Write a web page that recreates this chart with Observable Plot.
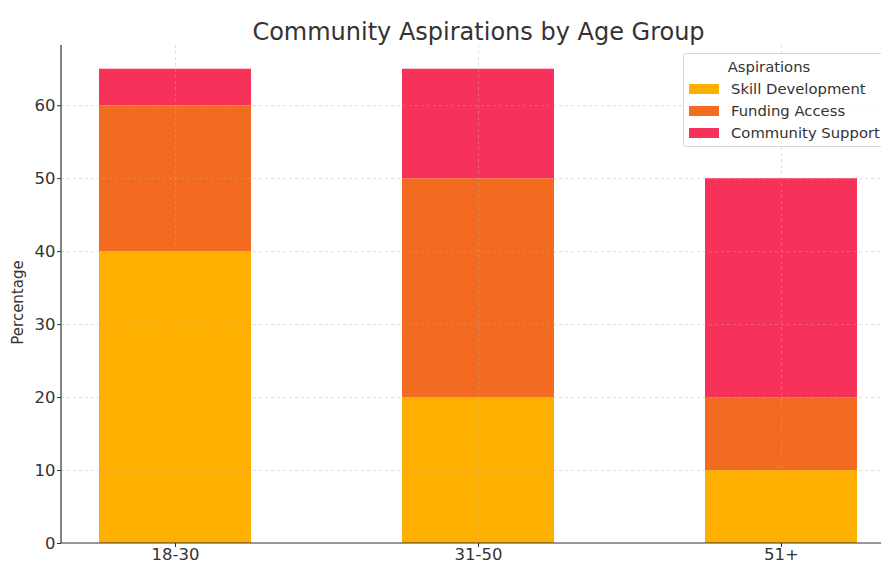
<!DOCTYPE html>
<html><head><meta charset="utf-8">
<script src="https://cdn.jsdelivr.net/npm/d3@7"></script>
<script src="https://cdn.jsdelivr.net/npm/@observablehq/plot@0.6"></script>
<style>
html,body{margin:0;padding:0;background:#fff;overflow:hidden;}
#wrap{position:relative;width:881px;height:563px;font-family:"DejaVu Sans",sans-serif;}
#legend{position:absolute;left:683px;top:53px;width:210px;height:94px;border:1px solid #d5d5d5;border-radius:3px;background:rgba(255,255,255,0.85);box-sizing:border-box;font-size:14.8px;color:#333;}
#legend .t{position:absolute;left:0;width:170px;top:4px;text-align:center;}
#legend .it{position:absolute;left:5px;height:18px;line-height:18px;}
#legend .sw{display:inline-block;width:30px;height:10px;vertical-align:middle;margin-right:12px;position:relative;top:-1px;}
</style></head>
<body><div id="wrap"></div>
<script>
const ageGroups = ["18-30", "31-50", "51+"];
const aspirations = ["Skill Development", "Funding Access", "Community Support"];
const skillDevelopment = [40, 20, 10];
const fundingAccess = [20, 30, 10];
const communitySupport = [5, 15, 30];
const colors = ["#FFAF00", "#F26B21", "#F7325A"];
const yTicks = [0, 10, 20, 30, 40, 50, 60];
const titleText = "Community Aspirations by Age Group";
const yLabel = "Percentage";

const series = [skillDevelopment, fundingAccess, communitySupport];
const data = [];
aspirations.forEach((a, i) => ageGroups.forEach((g, j) => data.push({group: g, aspiration: a, value: series[i][j]})));

const plot = Plot.plot({
  width: 881, height: 563,
  marginTop: 45, marginBottom: 20, marginLeft: 61, marginRight: 0,
  style: {fontFamily: "DejaVu Sans, sans-serif", fontSize: "16.5px", color: "#333", background: "#fff"},
  x: {domain: ageGroups, range: [61, 895], paddingInner: 0.5, paddingOuter: 0.125, label: null},
  y: {domain: [0, 68.25], label: null},
  color: {domain: aspirations, range: colors},
  marks: [
    Plot.barY(data, Plot.stackY({x: "group", y: "value", fill: "aspiration", order: aspirations})),
    Plot.gridY(yTicks.filter(d => d > 0), {stroke: "#b0b0b0", strokeOpacity: 0.55, strokeDasharray: "3,3", strokeWidth: 0.8}),
    Plot.gridX(ageGroups, {stroke: "#b0b0b0", strokeOpacity: 0.55, strokeDasharray: "3,3", strokeWidth: 0.8}),
    Plot.axisY({ticks: yTicks, tickSize: 4, tickPadding: 2, fontSize: 16.5, fill: "#333", stroke: "#333", label: null}),
    Plot.axisX({tickSize: 4, tickPadding: 1, fontSize: 16.5, fill: "#333", stroke: "#333", label: null}),
    Plot.text([titleText], {frameAnchor: "top", dx: 7, dy: -23, fontSize: 24, fill: "#333"}),
    Plot.text([yLabel], {frameAnchor: "left", textAnchor: "middle", dx: -43, dy: 8, rotate: -90, fontSize: 15, fill: "#333"})
  ]
});
document.getElementById("wrap").appendChild(plot);

const svg = d3.select(plot);
svg.selectAll("text").each(function() {
  const t = this.textContent;
  d3.select(this).style("font-size", t === titleText ? "24px" : t === yLabel ? "15px" : "16.5px");
});

// axis spines
svg.append("line").attr("x1", 61).attr("x2", 61).attr("y1", 45).attr("y2", 543).attr("stroke", "#333").attr("stroke-width", 1.2);
svg.append("line").attr("x1", 61).attr("x2", 881).attr("y1", 543).attr("y2", 543).attr("stroke", "#333").attr("stroke-width", 1.2);

// legend
const lg = document.createElement("div");
lg.id = "legend";
let html = '<div class="t">Aspirations</div>';
aspirations.forEach((a, i) => {
  html += `<div class="it" style="top:${26 + i * 22}px"><span class="sw" style="background:${colors[i]}"></span>${a}</div>`;
});
lg.innerHTML = html;
document.getElementById("wrap").appendChild(lg);
</script></body></html>
